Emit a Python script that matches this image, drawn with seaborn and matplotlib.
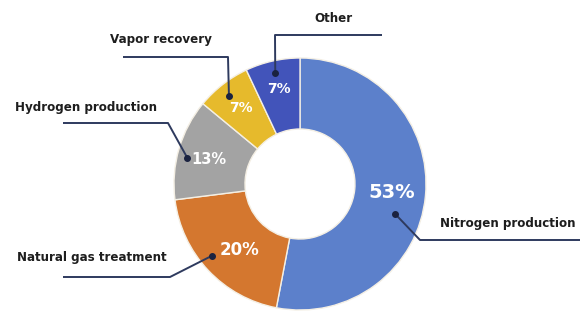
import numpy as np
import matplotlib.pyplot as plt
import seaborn as sns

categories = ['Nitrogen production', 'Natural gas treatment', 'Hydrogen production',
              'Vapor recovery', 'Other']
shares = [53, 20, 13, 7, 7]
pct_labels = ['53%', '20%', '13%', '7%', '7%']

colors = ['#5C80CB', '#D4772F', '#A3A3A3', '#E6BA2C', '#4254BA']

sns.set_style('white')
plt.rcParams['font.family'] = ['DejaVu Sans']

W, H = 580, 313


def px(x, y):
    # pixel coords (y down) -> axes data coords (y up)
    return x, H - y


fig = plt.figure(figsize=(5.8, 3.13), dpi=100)
ax = fig.add_axes([0, 0, 1, 1])

center = px(300, 184)
radius = 126
wedges, _ = ax.pie(shares, colors=colors, startangle=90, counterclock=False,
                   center=center, radius=radius,
                   wedgeprops=dict(width=71, edgecolor='#f4efe4', linewidth=1))

ax.set_xlim(0, W)
ax.set_ylim(0, H)
ax.set_aspect('equal')
ax.axis('off')

# label layout (pixel coords): percent radius, dot radius / angle shift,
# elbow, line end, text anchor
pct_r = [0.73, 0.71, 0.75, 0.76, 0.77]
pct_shift = [0, 4, 1, 0, 0]
pct_size = [14, 12, 10.5, 10, 10]
dot_r = [0.79, 0.90, 0.92, 0.90, 0.90]
dot_shift = [-12, -4, 3, 1, 0]
elbows = [(420, 240), (170, 277), (168, 123), (228, 57), (275, 35)]
ends = [(580, 240), (63, 277), (63, 123), (123, 57), (382, 35)]
text_pos = [(440, 223, 'left'), (17, 258, 'left'), (15, 107, 'left'),
            (110, 40, 'left'), (333, 18, 'center')]

line_col = '#2E3A5E'
for i, w in enumerate(wedges):
    mid = np.deg2rad((w.theta1 + w.theta2) / 2)
    pa = mid + np.deg2rad(pct_shift[i])
    r = pct_r[i] * radius
    ax.text(center[0] + r * np.cos(pa), center[1] + r * np.sin(pa), pct_labels[i],
            color='white', fontsize=pct_size[i], fontweight='bold',
            ha='center', va='center')

    ang = mid + np.deg2rad(dot_shift[i])
    rd = dot_r[i] * radius
    dx, dy = center[0] + rd * np.cos(ang), center[1] + rd * np.sin(ang)
    ex, ey = px(*elbows[i])
    lx, ly = px(*ends[i])
    ax.plot([dx, ex, lx], [dy, ey, ly], color=line_col, lw=1.4,
            solid_capstyle='butt')
    ax.plot(dx, dy, 'o', color='#1A2240', ms=4)

    tx, ty, ha = text_pos[i]
    tx, ty = px(tx, ty)
    ax.text(tx, ty, categories[i], fontsize=8.6, fontweight='bold',
            color='#1e1e1e', ha=ha, va='center')

fig.savefig('out.png', dpi=100)
